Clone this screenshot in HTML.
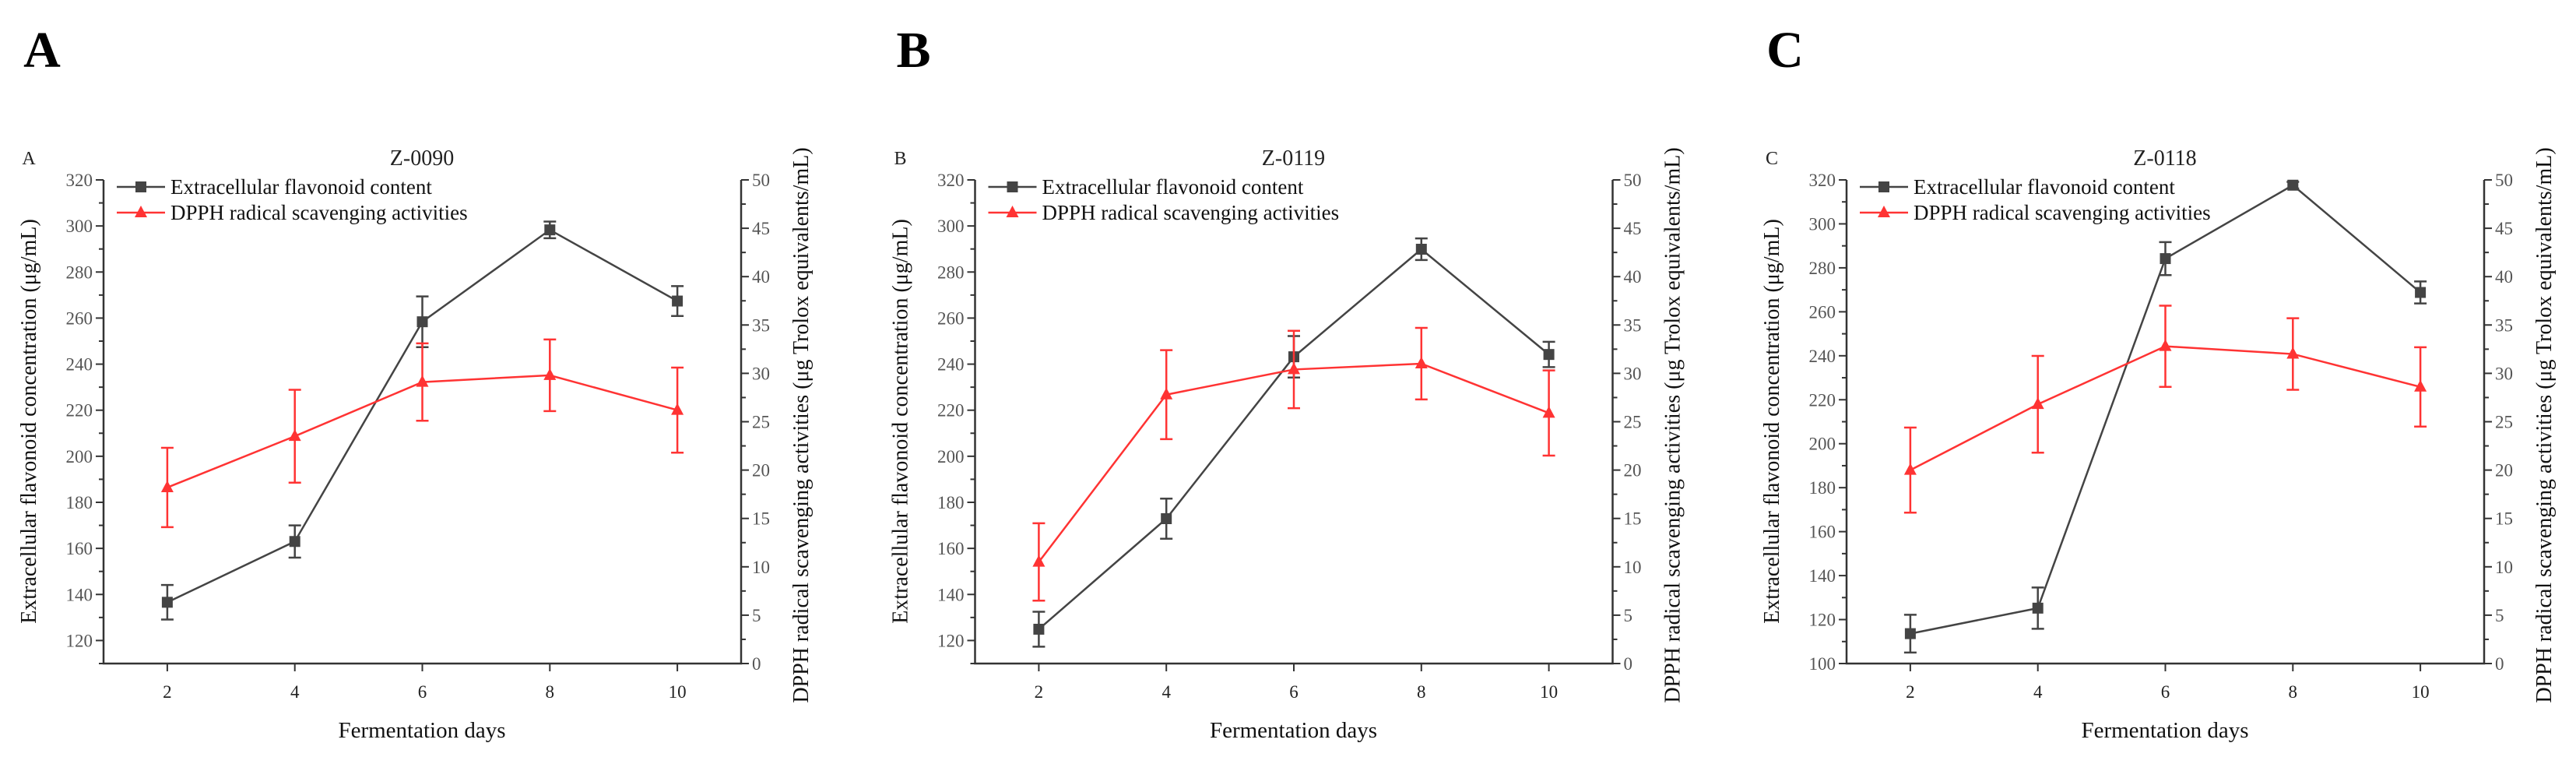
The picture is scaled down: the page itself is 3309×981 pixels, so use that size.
<!DOCTYPE html>
<html><head><meta charset="utf-8"><style>
html,body{margin:0;padding:0;background:#fff;}
svg{display:block;font-family:"Liberation Serif",serif;}
</style></head><body>
<svg id="chart" width="3309" height="981" viewBox="0 0 3309 981" xmlns="http://www.w3.org/2000/svg"></svg>
<script>
const days = [2, 4, 6, 8, 10];
const panelLetters = ["A", "B", "C"];
const panelTitles = ["Z-0090", "Z-0119", "Z-0118"];
const leftMins = [110, 110, 100];
const leftTicksAB = [120, 140, 160, 180, 200, 220, 240, 260, 280, 300, 320];
const leftTicksC = [100, 120, 140, 160, 180, 200, 220, 240, 260, 280, 300, 320];
const rightTicks = [0, 5, 10, 15, 20, 25, 30, 35, 40, 45, 50];
const flavA = [136.6, 163, 258.4, 298.3, 267.4];
const flavAErr = [7.5, 7, 11, 3.6, 6.5];
const dpphA = [18.2, 23.5, 29.1, 29.8, 26.2];
const dpphAErr = [4.1, 4.8, 4.0, 3.7, 4.4];
const flavB = [124.9, 172.9, 243.2, 289.9, 244.2];
const flavBErr = [7.6, 8.7, 9, 4.7, 5.5];
const dpphB = [10.5, 27.8, 30.4, 31.0, 25.9];
const dpphBErr = [4.0, 4.6, 4.0, 3.7, 4.4];
const flavC = [113.6, 125.2, 284.2, 317.6, 268.8];
const flavCErr = [8.6, 9.4, 7.5, 1.5, 5];
const dpphC = [20.0, 26.8, 32.8, 32.0, 28.6];
const dpphCErr = [4.4, 5.0, 4.2, 3.7, 4.1];

const flavSeries = [flavA, flavB, flavC];
const flavErrs = [flavAErr, flavBErr, flavCErr];
const dpphSeries = [dpphA, dpphB, dpphC];
const dpphErrs = [dpphAErr, dpphBErr, dpphCErr];

const NS = "http://www.w3.org/2000/svg";
const svg = document.getElementById("chart");
function mk(tag, attrs, parent, text) {
  const e = document.createElementNS(NS, tag);
  for (const k in attrs) e.setAttribute(k, attrs[k]);
  if (text !== undefined) e.textContent = text;
  (parent || svg).appendChild(e);
  return e;
}
const DARK = "#444", RED = "#ff3333", AX = "#333", TL = "#555";
const PLOT_TOP = 231, PLOT_BOT = 852;

for (let p = 0; p < 3; p++) {
  const off = p * 1119.5;
  const L = 133 + off, R = 952 + off;
  const g = mk("g", {});
  
  
  const lmin = leftMins[p], lmax = 320;
  const xS = d => L + (d - 1) / 10 * (R - L);
  const yL = v => PLOT_BOT - (v - lmin) / (lmax - lmin) * (PLOT_BOT - PLOT_TOP);
  const yR = v => PLOT_BOT - v / 50 * (PLOT_BOT - PLOT_TOP);

  const big = mk("text", {x: 54 + off, y: 86, "font-size": 66, "font-weight": "bold", "text-anchor": "middle", fill: "#000"}, g, panelLetters[p]);
  
  
  const small = mk("text", {x: 37 + off, y: 211, "font-size": 24, "text-anchor": "middle", fill: "#222"}, g, panelLetters[p]);
  
  
  const title = mk("text", {x: 542 + off, y: 212, "font-size": 28, "text-anchor": "middle", fill: "#222"}, g, panelTitles[p]);
  
  

  const ax = mk("path", {d: `M${L},${PLOT_TOP} V${PLOT_BOT} H${R} V${PLOT_TOP}`, fill: "none", stroke: AX, "stroke-width": 2.5}, g);
  
  

  const lt = p === 2 ? leftTicksC : leftTicksAB;
  for (let v = lmin; v <= lmax; v += 10) {
    const major = v % 20 === 0;
    mk("line", {x1: L, x2: L - (major ? 10 : 6), y1: yL(v), y2: yL(v), stroke: AX, "stroke-width": 2}, g);
  }
  lt.forEach(v => {
    const t = mk("text", {x: L - 14, y: yL(v) + 8, "font-size": 23, "text-anchor": "end", fill: TL}, g, String(v));
    
    
  });
  for (let v = 0; v <= 50; v += 2.5) {
    const major = v % 5 === 0;
    mk("line", {x1: R, x2: R + (major ? 10 : 6), y1: yR(v), y2: yR(v), stroke: AX, "stroke-width": 2}, g);
  }
  rightTicks.forEach(v => {
    const t = mk("text", {x: R + 14, y: yR(v) + 8, "font-size": 23, "text-anchor": "start", fill: TL}, g, String(v));
    
    
  });
  days.forEach(d => {
    mk("line", {x1: xS(d), x2: xS(d), y1: PLOT_BOT, y2: PLOT_BOT + 10, stroke: AX, "stroke-width": 2}, g);
    const t = mk("text", {x: xS(d), y: PLOT_BOT + 44, "font-size": 23, "text-anchor": "middle", fill: "#222"}, g, String(d));
    
    
  });
  const xt = mk("text", {x: 542 + off, y: 947, "font-size": 29, "text-anchor": "middle", fill: "#111"}, g, "Fermentation days");
  
  
  const ylt = mk("text", {x: 0, y: 0, "font-size": 28, "text-anchor": "middle", fill: "#111", transform: `translate(${46 + off},541) rotate(-90)`}, g, "Extracellular flavonoid concentration (μg/mL)");
  
  
  const yrt = mk("text", {x: 0, y: 0, "font-size": 28, "text-anchor": "middle", fill: "#111", transform: `translate(${1038 + off},546) rotate(-90)`}, g, "DPPH radical scavenging activities (μg Trolox equivalents/mL)");
  
  

  function drawSeries(vals, errs, ys, color, marker, name) {
    const sg = mk("g", {}, g);
    
    
    const pts = vals.map((v, i) => `${xS(days[i])},${ys(v)}`).join(" ");
    mk("polyline", {points: pts, fill: "none", stroke: color, "stroke-width": 2.5}, sg);
    vals.forEach((v, i) => {
      const x = xS(days[i]);
      const eb = mk("path", {d: `M${x},${ys(v - errs[i])} V${ys(v + errs[i])} M${x - 8},${ys(v - errs[i])} H${x + 8} M${x - 8},${ys(v + errs[i])} H${x + 8}`, stroke: color, "stroke-width": 2.5, fill: "none"}, sg);
      
      
      let m;
      if (marker === "sq") {
        m = mk("rect", {x: x - 7, y: ys(v) - 7, width: 14, height: 14, fill: color}, sg);
      } else {
        const y = ys(v);
        m = mk("polygon", {points: `${x},${y - 9} ${x - 8},${y + 6} ${x + 8},${y + 6}`, fill: color}, sg);
      }
      
      
    });
  }
  drawSeries(flavSeries[p], flavErrs[p], yL, DARK, "sq", "flavonoid-series");
  drawSeries(dpphSeries[p], dpphErrs[p], yR, RED, "tri", "dpph-series");

  const lg = mk("g", {}, g);
  
  
  const lx = L + 17;
  const e1 = mk("g", {}, lg);
  
  
  mk("line", {x1: lx, x2: lx + 62, y1: 240, y2: 240, stroke: DARK, "stroke-width": 2.5}, e1);
  mk("rect", {x: lx + 24, y: 233, width: 14, height: 14, fill: DARK}, e1);
  mk("text", {x: lx + 69, y: 249, "font-size": 27, fill: "#111"}, e1, "Extracellular flavonoid content");
  const e2 = mk("g", {}, lg);
  
  
  mk("line", {x1: lx, x2: lx + 62, y1: 273, y2: 273, stroke: RED, "stroke-width": 2.5}, e2);
  mk("polygon", {points: `${lx + 31},${264} ${lx + 23},${279} ${lx + 39},${279}`, fill: RED}, e2);
  mk("text", {x: lx + 69, y: 282, "font-size": 27, fill: "#111"}, e2, "DPPH radical scavenging activities");
}
</script>
</body></html>
